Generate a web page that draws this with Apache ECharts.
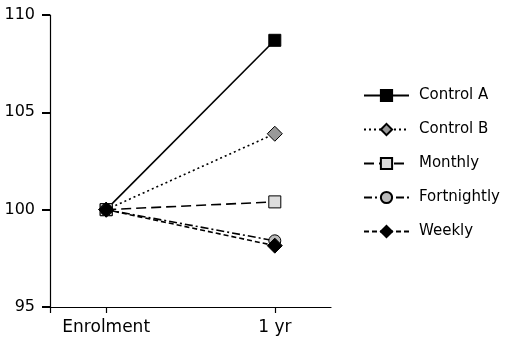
<!DOCTYPE html>
<html><head><meta charset="utf-8">
<script src="https://cdn.jsdelivr.net/npm/echarts@6/dist/echarts.min.js"></script>
<style>html,body{margin:0;padding:0;background:#fff}#c{width:505px;height:343px}</style>
</head><body><div id="c"></div>
<script>
// category slots: blank slots give the padding either side of the two time points
const categories = ['a', 'Enrolment', 'b', 'c', '1 yr', 'd'];
const timeLabels = ['Enrolment', '1 yr'];
const controlA = [100, 108.7];
const controlB = [100, 103.9];
const monthly = [100, 100.4];
const fortnightly = [100, 98.4];
const weekly = [100, 98.15];
const yTicks = [95, 100, 105, 110];

const FONT = 'DejaVu Sans';
function pts(v){ return v.map((y,i)=>[timeLabels[i], y]); }
function mk(name, vals, lineType, symbol, size, fill, z){
  return {
    name, type:'line', data: pts(vals), symbol, symbolSize: size, z,
    lineStyle:{color:'#000', width:1.6, type: lineType},
    itemStyle:{color: fill, borderColor:'#000', borderWidth:1},
    emphasis:{disabled:true}, animation:false
  };
}
const shownTick = (i)=> i===0 || timeLabels.indexOf(categories[i])>=0;
const chart = echarts.init(document.getElementById('c'));
chart.setOption({
  animation:false,
  grid:{left:50, right:174, top:15, bottom:36},
  xAxis:{type:'category', data:categories, boundaryGap:false,
    axisLine:{lineStyle:{color:'#000', width:1.2}},
    axisTick:{show:true, length:6, interval:(i)=>shownTick(i), lineStyle:{color:'#000', width:1.2}},
    axisLabel:{color:'#000', fontFamily:FONT, fontSize:17, margin:12,
      interval:(i)=>timeLabels.indexOf(categories[i])>=0},
    splitLine:{show:false}},
  yAxis:{type:'value', min:yTicks[0], max:yTicks[yTicks.length-1], interval:5, position:'left',
    axisLine:{show:true, lineStyle:{color:'#000', width:1.2}},
    axisTick:{show:true, interval:0, inside:false, length:8, lineStyle:{color:'#000', width:2}},
    axisLabel:{color:'#000', fontFamily:FONT, fontSize:16, margin:15},
    splitLine:{show:false}},
  legend:{orient:'vertical', left:358, top:83, itemWidth:45, itemHeight:14, itemGap:19,
    textStyle:{color:'#000', fontFamily:FONT, fontSize:15, padding:[0,0,0,5]},
    data:['Control A','Control B','Monthly','Fortnightly','Weekly']},
  series:[
    mk('Control A', controlA, 'solid', 'rect', 12, '#000', 2),
    mk('Control B', controlB, [2,3], 'diamond', 15, '#999', 3),
    mk('Monthly', monthly, [10,5], 'rect', 12, '#ddd', 4),
    mk('Fortnightly', fortnightly, [8,3,2,3], 'circle', 12, '#bbb', 5),
    mk('Weekly', weekly, [5,3], 'diamond', 15, '#000', 6)
  ]
});
</script></body></html>
